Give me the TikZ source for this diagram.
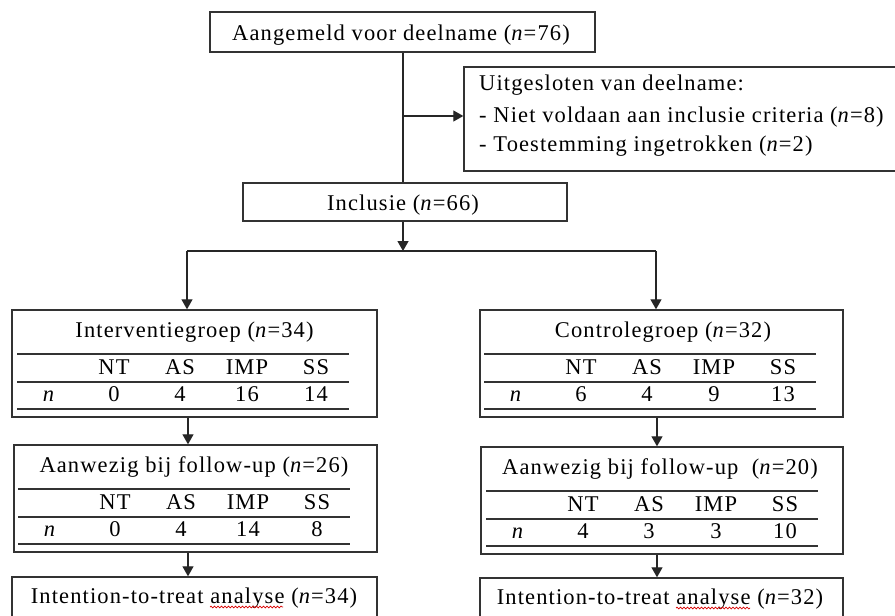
\documentclass[tikz,border=0pt]{standalone}
\usepackage{fontspec}
\setmainfont{Liberation Serif}[LetterSpace=5]
\usetikzlibrary{arrows.meta,decorations.pathmorphing}
\tikzset{
  boxframe/.style={draw=black!80,line width=1.4pt,inner sep=0pt},
  txt/.style={inner sep=0pt,font=\fontsize{22.5}{26}\selectfont,text=black},
  rulel/.style={draw=black!80,line width=1.3pt},
  conn/.style={draw=black!85,line width=1.3pt},
  arr/.style={conn,-{Triangle[width=11pt,length=10pt]}},
  squig/.style={draw=red!85!black,line width=0.7pt,decorate,decoration={snake,amplitude=0.9pt,segment length=3.5pt}}
}
% table inside a group box: #1 prefix, #2 rule left x, #3 box top y, #4-#7 values
\newcommand\grptab[7]{%
  \draw[rulel] (#2,#3+44) -- ++(332,0);
  \draw[rulel] (#2,#3+72) -- ++(332,0);
  \draw[rulel] (#2,#3+99) -- ++(332,0);
  \node[txt,anchor=base] (#1hNT)  at (#2+97,#3+64) {NT};
  \node[txt,anchor=base] (#1hAS)  at (#2+163,#3+64) {AS};
  \node[txt,anchor=base] (#1hIMP) at (#2+230,#3+64) {IMP};
  \node[txt,anchor=base] (#1hSS)  at (#2+299,#3+64) {SS};
  \node[txt,anchor=base] (#1n)    at (#2+32,#3+91) {\textit{n}};
  \node[txt,anchor=base] (#1vNT)  at (#2+97,#3+91) {#4};
  \node[txt,anchor=base] (#1vAS)  at (#2+163,#3+91) {#5};
  \node[txt,anchor=base] (#1vIMP) at (#2+230,#3+91) {#6};
  \node[txt,anchor=base] (#1vSS)  at (#2+299,#3+91) {#7};
}
\begin{document}
\begin{tikzpicture}[x=1pt,y=-1pt]
\useasboundingbox (0,0) rectangle (895,616);
\clip (0,0) rectangle (895,616);
\fill[white] (0,0) rectangle (895,616);

% top box
\node[boxframe,minimum width=385pt,minimum height=40pt] (aang) at (402.5,32) {};
\node[txt,anchor=base] (aangt) at (401,40) {Aangemeld voor deelname (\textit{n}=76)};

% exclusion box
\node[boxframe,minimum width=441pt,minimum height=104pt] (excl) at (684.5,119) {};
\node[txt,anchor=base west] (ex1) at (479,90) {Uitgesloten van deelname:};
\node[txt,anchor=base west] (ex2) at (479,122) {- Niet voldaan aan inclusie criteria (\textit{n}=8)};
\node[txt,anchor=base west] (ex3) at (479,151) {- Toestemming ingetrokken (\textit{n}=2)};

% inclusion box
\node[boxframe,minimum width=324pt,minimum height=38pt] (incl) at (405,202) {};
\node[txt,anchor=base] (inclt) at (403,210) {Inclusie (\textit{n}=66)};

% group boxes
\node[boxframe,minimum width=365pt,minimum height=107pt] (intv) at (194.5,363.5) {};
\node[txt,anchor=base] (intvt) at (194.5,337) {Interventiegroep (\textit{n}=34)};
\grptab{iA}{17}{310}{0}{4}{16}{14}

\node[boxframe,minimum width=363pt,minimum height=107pt] (ctrl) at (661.5,363.5) {};
\node[txt,anchor=base] (ctrlt) at (663,337) {Controlegroep (\textit{n}=32)};
\grptab{cA}{484}{310}{6}{4}{9}{13}

\node[boxframe,minimum width=363pt,minimum height=107pt] (ifu) at (195.5,498.5) {};
\node[txt,anchor=base] (ifut) at (194,472) {Aanwezig bij follow-up (\textit{n}=26)};
\grptab{iB}{18}{445}{0}{4}{14}{8}

\node[boxframe,minimum width=362pt,minimum height=107pt] (cfu) at (662,500.5) {};
\node[txt,anchor=base] (cfut) at (660,474) {Aanwezig bij follow-up\ \ (\textit{n}=20)};
\grptab{cB}{486}{447}{4}{3}{3}{10}

% intention-to-treat boxes (cut off at bottom)
\node[boxframe,minimum width=365pt,minimum height=63pt] (itti) at (194.5,608.5) {};
\node[txt,anchor=base] (ittit) at (194,603) {Intention-to-treat analyse (\textit{n}=34)};
\node[boxframe,minimum width=363pt,minimum height=63pt] (ittc) at (661.5,609.5) {};
\node[txt,anchor=base] (ittct) at (660,604) {Intention-to-treat analyse (\textit{n}=32)};
\draw[squig] (210,607) -- (283,607);
\draw[squig] (676,608) -- (750,608);

% connectors
\coordinate (vx) at (403,0);
\draw[conn] (vx |- aang.south) -- (vx |- incl.north);
\coordinate (exj) at (403,116);
\draw[arr] (exj) -- (exj -| excl.west);
\coordinate (br) at (403,251);
\draw[arr] (vx |- incl.south) -- (br);
\coordinate (bl) at (187,251);
\coordinate (brr) at (656,251);
\draw[conn] (bl) -- (brr);
\draw[arr] (bl) -- (bl |- intv.north);
\draw[arr] (brr) -- (brr |- ctrl.north);
\coordinate (lx) at (188,0);
\coordinate (rx) at (657,0);
\draw[arr] (lx |- intv.south) -- (lx |- ifu.north);
\draw[arr] (lx |- ifu.south) -- (lx |- itti.north);
\draw[arr] (rx |- ctrl.south) -- (rx |- cfu.north);
\draw[arr] (rx |- cfu.south) -- (rx |- ittc.north);
\end{tikzpicture}
\end{document}
